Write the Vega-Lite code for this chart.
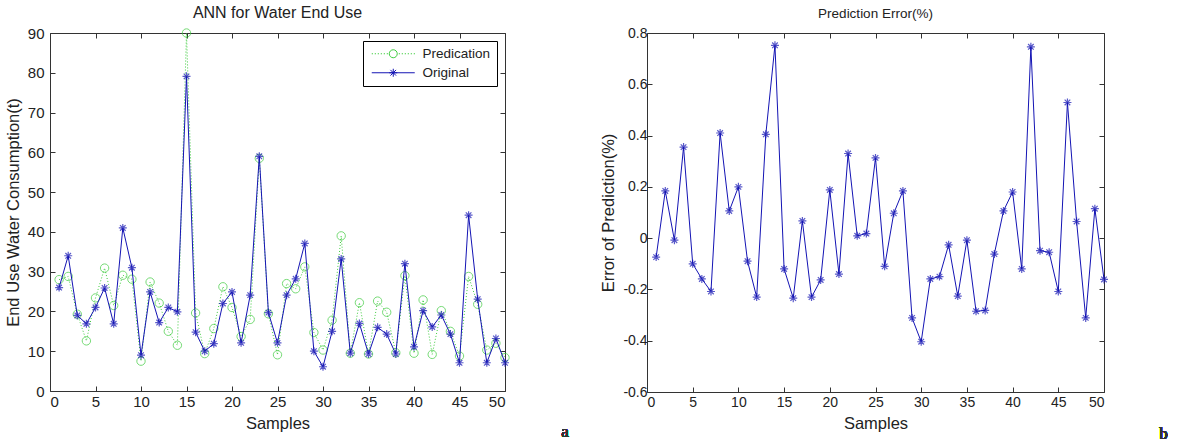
{
  "$schema": "https://vega.github.io/schema/vega-lite/v6.json",
  "padding": {"left": 4, "top": 4, "right": 5, "bottom": 5},
  "background": "white",
  "datasets": {
    "water": [
      {"sample": 1, "Original": 26, "Predication": 28},
      {"sample": 2, "Original": 34, "Predication": 28.8},
      {"sample": 3, "Original": 19, "Predication": 19.3},
      {"sample": 4, "Original": 16.9, "Predication": 12.6},
      {"sample": 5, "Original": 21, "Predication": 23.4},
      {"sample": 6, "Original": 25.9, "Predication": 30.9},
      {"sample": 7, "Original": 16.9, "Predication": 21.5},
      {"sample": 8, "Original": 41, "Predication": 29.1},
      {"sample": 9, "Original": 31, "Predication": 28.1},
      {"sample": 10, "Original": 9, "Predication": 7.5},
      {"sample": 11, "Original": 24.9, "Predication": 27.4},
      {"sample": 12, "Original": 17.2, "Predication": 22.1},
      {"sample": 13, "Original": 21, "Predication": 15},
      {"sample": 14, "Original": 19.9, "Predication": 11.5},
      {"sample": 15, "Original": 79.1, "Predication": 90},
      {"sample": 16, "Original": 14.8, "Predication": 19.6},
      {"sample": 17, "Original": 10, "Predication": 9.4},
      {"sample": 18, "Original": 11.9, "Predication": 15.7},
      {"sample": 19, "Original": 22, "Predication": 26.2},
      {"sample": 20, "Original": 24.9, "Predication": 21},
      {"sample": 21, "Original": 12.1, "Predication": 13.7},
      {"sample": 22, "Original": 24.1, "Predication": 18},
      {"sample": 23, "Original": 59, "Predication": 58.5},
      {"sample": 24, "Original": 19.7, "Predication": 19.4},
      {"sample": 25, "Original": 12.1, "Predication": 9.1},
      {"sample": 26, "Original": 24.1, "Predication": 27},
      {"sample": 27, "Original": 28.2, "Predication": 25.7},
      {"sample": 28, "Original": 37.1, "Predication": 31.2},
      {"sample": 29, "Original": 10, "Predication": 14.7},
      {"sample": 30, "Original": 6.1, "Predication": 10.3},
      {"sample": 31, "Original": 15, "Predication": 17.8},
      {"sample": 32, "Original": 33.2, "Predication": 39},
      {"sample": 33, "Original": 9.5, "Predication": 9.5},
      {"sample": 34, "Original": 17, "Predication": 22.2},
      {"sample": 35, "Original": 9.3, "Predication": 9.3},
      {"sample": 36, "Original": 16, "Predication": 22.6},
      {"sample": 37, "Original": 14.3, "Predication": 19.8},
      {"sample": 38, "Original": 9.3, "Predication": 9.6},
      {"sample": 39, "Original": 32, "Predication": 29},
      {"sample": 40, "Original": 11.1, "Predication": 9.5},
      {"sample": 41, "Original": 20.2, "Predication": 22.9},
      {"sample": 42, "Original": 16.1, "Predication": 9.2},
      {"sample": 43, "Original": 19.1, "Predication": 20.2},
      {"sample": 44, "Original": 14.3, "Predication": 15},
      {"sample": 45, "Original": 7.1, "Predication": 8.8},
      {"sample": 46, "Original": 44.2, "Predication": 28.8},
      {"sample": 47, "Original": 23.1, "Predication": 21.8},
      {"sample": 48, "Original": 7.1, "Predication": 10.3},
      {"sample": 49, "Original": 13.2, "Predication": 12},
      {"sample": 50, "Original": 7.1, "Predication": 8.4}
    ],
    "err": [
      {"sample": 1, "error": -0.074},
      {"sample": 2, "error": 0.184},
      {"sample": 3, "error": -0.008},
      {"sample": 4, "error": 0.355},
      {"sample": 5, "error": -0.1},
      {"sample": 6, "error": -0.159},
      {"sample": 7, "error": -0.208},
      {"sample": 8, "error": 0.41},
      {"sample": 9, "error": 0.106},
      {"sample": 10, "error": 0.2},
      {"sample": 11, "error": -0.09},
      {"sample": 12, "error": -0.23},
      {"sample": 13, "error": 0.405},
      {"sample": 14, "error": 0.752},
      {"sample": 15, "error": -0.12},
      {"sample": 16, "error": -0.234},
      {"sample": 17, "error": 0.067},
      {"sample": 18, "error": -0.23},
      {"sample": 19, "error": -0.163},
      {"sample": 20, "error": 0.188},
      {"sample": 21, "error": -0.14},
      {"sample": 22, "error": 0.33},
      {"sample": 23, "error": 0.009},
      {"sample": 24, "error": 0.018},
      {"sample": 25, "error": 0.313},
      {"sample": 26, "error": -0.11},
      {"sample": 27, "error": 0.097},
      {"sample": 28, "error": 0.184},
      {"sample": 29, "error": -0.311},
      {"sample": 30, "error": -0.404},
      {"sample": 31, "error": -0.159},
      {"sample": 32, "error": -0.15},
      {"sample": 33, "error": -0.026},
      {"sample": 34, "error": -0.226},
      {"sample": 35, "error": -0.008},
      {"sample": 36, "error": -0.285},
      {"sample": 37, "error": -0.282},
      {"sample": 38, "error": -0.062},
      {"sample": 39, "error": 0.106},
      {"sample": 40, "error": 0.18},
      {"sample": 41, "error": -0.12},
      {"sample": 42, "error": 0.746},
      {"sample": 43, "error": -0.049},
      {"sample": 44, "error": -0.055},
      {"sample": 45, "error": -0.208},
      {"sample": 46, "error": 0.529},
      {"sample": 47, "error": 0.065},
      {"sample": 48, "error": -0.311},
      {"sample": 49, "error": 0.115},
      {"sample": 50, "error": -0.161}
    ]
  },
  "config": {
    "font": "Liberation Sans",
    "view": {"stroke": "#333333", "strokeWidth": 1},
    "axis": {
      "domain": false,
      "grid": false,
      "ticks": true,
      "tickSize": -5,
      "tickColor": "#333333",
      "labelColor": "#222222",
      "titleColor": "#222222",
      "titleFontWeight": "normal",
      "labelFont": "Liberation Sans",
      "titleFont": "Liberation Sans"
    },
    "title": {"font": "Liberation Sans", "fontWeight": "normal", "color": "#222222"}
  },
  "bounds": "flush",
  "spacing": 142,
  "resolve": {"scale": {"color": "independent"}, "legend": {"color": "independent"}},
  "hconcat": [
    {
      "width": 455,
      "height": 358,
      "data": {"name": "water"},
      "title": {"text": "ANN for Water End Use", "fontSize": 16, "offset": 5},
      "layer": [
        {
          "mark": {"type": "line", "strokeWidth": 1, "strokeDash": [1, 2]},
          "encoding": {
            "x": {"field": "sample", "type": "quantitative", "scale": {"domain": [0, 50], "nice": false},
              "axis": {"orient": "bottom", "values": [0, 5, 10, 15, 20, 25, 30, 35, 40, 45, 50], "title": "Samples", "labelFontSize": 15, "titleFontSize": 16.5, "labelPadding": 8, "titlePadding": 6}},
            "y": {"field": "Predication", "type": "quantitative", "scale": {"domain": [0, 90], "nice": false},
              "axis": {"orient": "left", "values": [0, 10, 20, 30, 40, 50, 60, 70, 80, 90], "title": "End Use Water Consumption(t)", "labelFontSize": 15, "titleFontSize": 16.5, "labelPadding": 11, "titlePadding": 6}},
            "color": {"datum": "Predication", "type": "nominal",
              "scale": {"domain": ["Predication", "Original"], "range": ["#3ccc3c", "#1414b4"]},
              "legend": {
                "orient": "top-right", "offset": 8, "title": null,
                "strokeColor": "#000000", "fillColor": "white", "padding": 6, "cornerRadius": 0,
                "labelFontSize": 13.5, "labelColor": "#222222", "labelOffset": 40,
                "symbolSize": 64, "rowPadding": 4,
                "encode": {
                  "symbols": {
                    "update": {
                      "shape": {"signal": "datum.value === 'Original' ? 'M-1,0H9.75M4.375,-1V1M3.375,0H5.375M3.67,-0.71L5.08,0.71M3.67,0.71L5.08,-0.71' : 'M-1,0h0.3M-0.25,0h0.3M0.5,0h0.3M1.25,0h0.3M2,0h0.3M2.75,0h0.3M5.75,0h0.3M6.5,0h0.3M7.25,0h0.3M8,0h0.3M8.75,0h0.3M9.5,0h0.3M3.375,0A1,1 0 1,0 5.375,0A1,1 0 1,0 3.375,0'"},
                      "stroke": {"signal": "datum.value === 'Original' ? '#1414b4' : '#3ccc3c'"},
                      "fill": {"value": "transparent"},
                      "strokeDash": {"value": []},
                      "strokeWidth": {"value": 1}
                    }
                  }
                }
              }}
          }
        },
        {
          "mark": {"type": "point", "filled": false, "strokeWidth": 1, "size": 70, "shape": "circle"},
          "encoding": {
            "x": {"field": "sample", "type": "quantitative", "axis": null},
            "y": {"field": "Predication", "type": "quantitative", "axis": null},
            "color": {"datum": "Predication", "type": "nominal"}
          }
        },
        {
          "mark": {"type": "line", "strokeWidth": 1},
          "encoding": {
            "x": {"field": "sample", "type": "quantitative", "axis": null},
            "y": {"field": "Original", "type": "quantitative", "axis": null},
            "color": {"datum": "Original", "type": "nominal"}
          }
        },
        {
          "mark": {"type": "point", "filled": false, "strokeWidth": 1.2, "size": 64, "shape": "M-1,0L1,0M0,-1L0,1M-0.7,-0.7L0.7,0.7M-0.7,0.7L0.7,-0.7"},
          "encoding": {
            "x": {"field": "sample", "type": "quantitative", "axis": null},
            "y": {"field": "Original", "type": "quantitative", "axis": null},
            "color": {"datum": "Original", "type": "nominal"}
          }
        },
        {
          "mark": {"type": "point", "opacity": 0},
          "encoding": {
            "x": {"field": "sample", "type": "quantitative", "axis": {"orient": "top", "values": [0, 5, 10, 15, 20, 25, 30, 35, 40, 45, 50], "labels": false, "title": null}},
            "y": {"field": "Original", "type": "quantitative", "axis": {"orient": "right", "values": [0, 10, 20, 30, 40, 50, 60, 70, 80, 90], "labels": false, "title": null}}
          }
        },
        {
          "mark": {"type": "text", "clip": false, "font": "Liberation Serif", "fontSize": 17, "fontWeight": "normal", "color": "#333333", "align": "center", "baseline": "middle"},
          "encoding": {
            "x": {"datum": 56.6, "type": "quantitative", "axis": null},
            "y": {"datum": -10.2, "type": "quantitative", "axis": null},
            "text": {"value": "a"}
          }
        }
      ],
      "resolve": {"axis": {"x": "independent", "y": "independent"}}
    },
    {
      "width": 457,
      "height": 359,
      "data": {"name": "err"},
      "title": {"text": "Prediction Error(%)", "fontSize": 13.5, "offset": 6},
      "layer": [
        {
          "mark": {"type": "line", "strokeWidth": 1, "color": "#1414b4"},
          "encoding": {
            "x": {"field": "sample", "type": "quantitative", "scale": {"domain": [0, 50], "nice": false},
              "axis": {"orient": "bottom", "values": [0, 5, 10, 15, 20, 25, 30, 35, 40, 45, 50], "title": "Samples", "labelFontSize": 14, "titleFontSize": 16.5, "labelPadding": 8, "titlePadding": 6}},
            "y": {"field": "error", "type": "quantitative", "scale": {"domain": [-0.6, 0.8], "nice": false},
              "axis": {"orient": "left", "values": [-0.6, -0.4, -0.2, 0, 0.2, 0.4, 0.6, 0.8], "labelExpr": "toString(round(datum.value * 10) / 10)", "title": "Error of Prediction(%)", "labelFontSize": 14, "titleFontSize": 16.5, "labelPadding": 5, "titlePadding": 6}}
          }
        },
        {
          "mark": {"type": "point", "filled": false, "strokeWidth": 1.2, "size": 64, "color": "#1414b4", "shape": "M-1,0L1,0M0,-1L0,1M-0.7,-0.7L0.7,0.7M-0.7,0.7L0.7,-0.7"},
          "encoding": {
            "x": {"field": "sample", "type": "quantitative", "axis": null},
            "y": {"field": "error", "type": "quantitative", "axis": null}
          }
        },
        {
          "mark": {"type": "point", "opacity": 0},
          "encoding": {
            "x": {"field": "sample", "type": "quantitative", "axis": {"orient": "top", "values": [0, 5, 10, 15, 20, 25, 30, 35, 40, 45, 50], "labels": false, "title": null}},
            "y": {"field": "error", "type": "quantitative", "axis": {"orient": "right", "values": [-0.6, -0.4, -0.2, 0, 0.2, 0.4, 0.6, 0.8], "labels": false, "title": null}}
          }
        },
        {
          "mark": {"type": "text", "clip": false, "font": "Liberation Serif", "fontSize": 17, "fontWeight": "normal", "color": "#333333", "align": "center", "baseline": "middle"},
          "encoding": {
            "x": {"datum": 56.5, "type": "quantitative", "axis": null},
            "y": {"datum": -0.763, "type": "quantitative", "axis": null},
            "text": {"value": "b"}
          }
        }
      ],
      "resolve": {"axis": {"x": "independent", "y": "independent"}}
    }
  ]
}
